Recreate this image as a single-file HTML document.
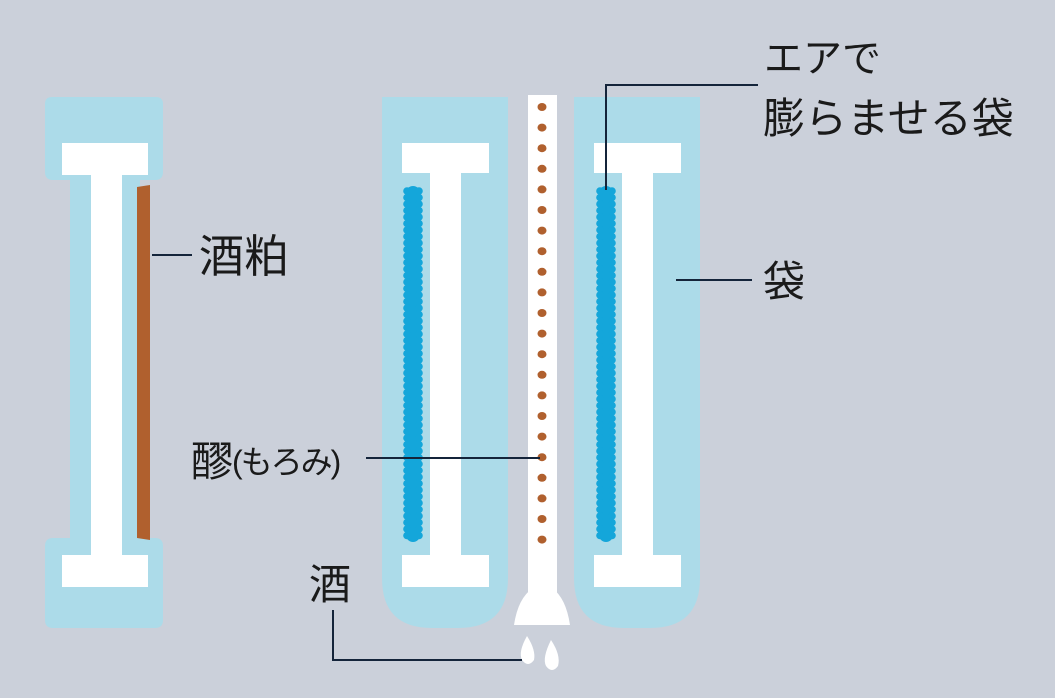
<!DOCTYPE html>
<html><head><meta charset="utf-8"><style>
html,body{margin:0;padding:0;background:#cbd0da;}
svg{display:block}
text{font-family:"Liberation Sans","Noto Sans CJK JP",sans-serif;fill:#1a1a1a;}
</style></head><body>
<svg width="1055" height="698" viewBox="0 0 1055 698" xmlns="http://www.w3.org/2000/svg">
<rect width="1055" height="698" fill="#cbd0da"/>
<path d="M52 97 H156 Q163 97 163 104 V172 Q163 180 155 180 H140 V538 H155 Q163 538 163 546 V620 Q163 628 155 628 H53 Q45 628 45 620 V546 Q45 538 53 538 H70 V180 H53 Q45 180 45 172 V104 Q45 97 52 97 Z" fill="#acdbe9"/>
<rect x="62" y="143" width="86" height="32" fill="#fff"/>
<rect x="91" y="170" width="31" height="390" fill="#fff"/>
<rect x="62" y="555" width="86" height="32" fill="#fff"/>
<polygon points="137,187 150,185 150,540 137,538" fill="#b0602e"/>
<path d="M382 97 H508 V578 Q508 628 458 628 H432 Q382 628 382 578 Z" fill="#acdbe9"/>
<path d="M574 97 H700 V578 Q700 628 650 628 H624 Q574 628 574 578 Z" fill="#acdbe9"/>
<rect x="402" y="143" width="87" height="30" fill="#fff"/>
<rect x="430" y="170" width="31" height="390" fill="#fff"/>
<rect x="402" y="555" width="87" height="32" fill="#fff"/>
<rect x="594" y="143" width="87" height="30" fill="#fff"/>
<rect x="622" y="170" width="31" height="390" fill="#fff"/>
<rect x="594" y="555" width="87" height="32" fill="#fff"/>
<g id="strips" fill="#14a6da"></g>
<rect x="528" y="95" width="29" height="500" fill="#fff"/>
<path d="M533 588 Q518 598 514 625 H570 Q566 598 552 588 Z" fill="#fff"/>
<g id="dots" fill="#b0602e"></g>
<path d="M527 636 Q518 652 522 660 Q528 668 534 660 Q536 650 527 636 Z" fill="#fff"/>
<path d="M551 640 Q542 658 546 666 Q552 674 558 666 Q561 655 551 640 Z" fill="#fff"/>
<g stroke="#14243a" stroke-width="2" fill="none">
<line x1="152" y1="255" x2="192" y2="255"/>
<line x1="676" y1="280" x2="752" y2="280"/>
<line x1="366" y1="458" x2="540" y2="458"/>
<polyline points="606,190 606,85 758,85"/>
<polyline points="333,610 333,660 522,660"/>
</g>
<text x="764" y="72" font-size="39">エアで</text>
<text x="763" y="133" font-size="42">膨らませる袋</text>
<text x="199" y="272" font-size="45">酒粕</text>
<text x="763" y="296" font-size="42">袋</text>
<text x="191" y="476" font-size="42">醪</text>
<text x="232" y="473" font-size="32" letter-spacing="-2">(もろみ)</text>
<text x="309" y="599" font-size="42">酒</text>
</svg>
<script>
var ns="http://www.w3.org/2000/svg";
var s=document.getElementById("strips");
[413,606].forEach(function(cx){
 var r=document.createElementNS(ns,"rect");
 r.setAttribute("x",cx-7);r.setAttribute("y",186);r.setAttribute("width",14);r.setAttribute("height",356);r.setAttribute("rx",7);
 s.appendChild(r);
 for(var y=191;y<=540;y+=6.5){
  [cx-6,cx+6].forEach(function(x){var c=document.createElementNS(ns,"circle");c.setAttribute("cx",x);c.setAttribute("cy",y);c.setAttribute("r",3.8);s.appendChild(c);});
 }
});
var d=document.getElementById("dots");
for(var i=0;i<22;i++){var e=document.createElementNS(ns,"ellipse");e.setAttribute("cx",542);e.setAttribute("cy",107+i*20.6);e.setAttribute("rx",4.5);e.setAttribute("ry",4);d.appendChild(e);}
</script>
</body></html>
